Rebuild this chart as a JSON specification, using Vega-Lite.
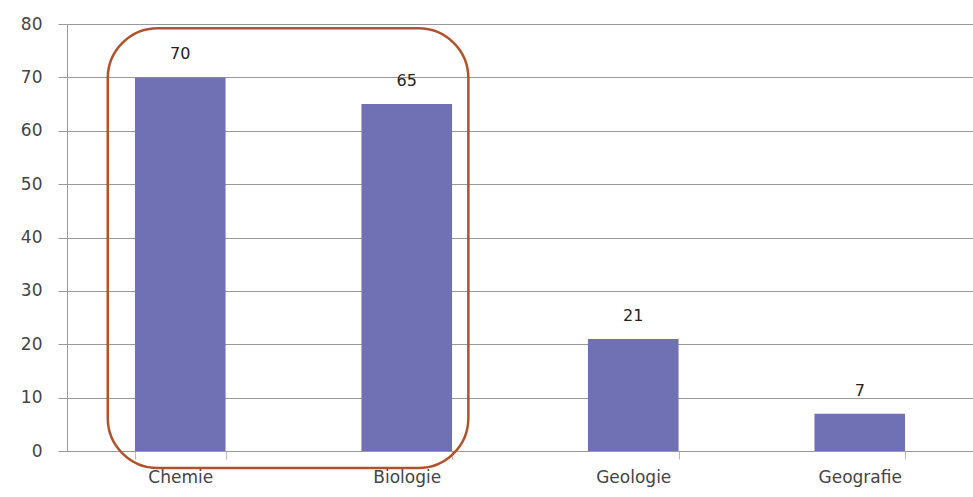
{
  "$schema": "https://vega.github.io/schema/vega-lite/v6.json",
  "width": 906,
  "height": 427,
  "autosize": {"type": "none"},
  "padding": {"left": 67, "top": 24, "right": 0, "bottom": 46},
  "background": "white",
  "config": {"view": {"stroke": null}, "font": "DejaVu Sans"},
  "layer": [
    {
      "data": {"values": [
        {"Fach": "Chemie", "Wert": 70},
        {"Fach": "Biologie", "Wert": 65},
        {"Fach": "Geologie", "Wert": 21},
        {"Fach": "Geografie", "Wert": 7}
      ]},
      "layer": [
        {
          "mark": {"type": "bar", "color": "#6F71B4"},
          "encoding": {
            "x": {"field": "Fach", "type": "nominal",
              "scale": {"domain": ["Chemie", "Biologie", "Geologie", "Geografie"], "paddingInner": 0.6, "paddingOuter": 0.3},
              "axis": {"title": null, "labelAngle": 0, "labelFontSize": 17, "labelColor": "#444", "labelPadding": 10,
                "domainColor": "#999", "tickColor": "#bbb", "tickBand": "extent", "tickSize": 8}},
            "y": {"field": "Wert", "type": "quantitative",
              "scale": {"domain": [0, 80]},
              "axis": {"title": null, "values": [0,10,20,30,40,50,60,70,80], "labelFontSize": 17, "labelColor": "#444",
                "gridColor": "#999", "gridOpacity": 1, "domainColor": "#999", "tickColor": "#999", "tickSize": 9, "labelPadding": 16}}
          }
        },
        {
          "mark": {"type": "text", "dy": -15, "fontSize": 16, "color": "#222", "baseline": "bottom"},
          "encoding": {
            "x": {"field": "Fach", "type": "nominal"},
            "y": {"field": "Wert", "type": "quantitative"},
            "text": {"field": "Wert", "type": "quantitative"}
          }
        }
      ]
    },
    {
      "data": {"values": [{"von": "Chemie", "bis": "Biologie", "unten": -3.2, "oben": 79.2}]},
      "mark": {"type": "rect", "filled": false, "stroke": "#B0532A", "strokeWidth": 2.5, "cornerRadius": 50},
      "encoding": {
        "x": {"field": "von", "type": "nominal", "bandPosition": -0.3},
        "x2": {"field": "bis", "bandPosition": 1.18},
        "y": {"field": "unten", "type": "quantitative"},
        "y2": {"field": "oben"}
      }
    }
  ]
}
